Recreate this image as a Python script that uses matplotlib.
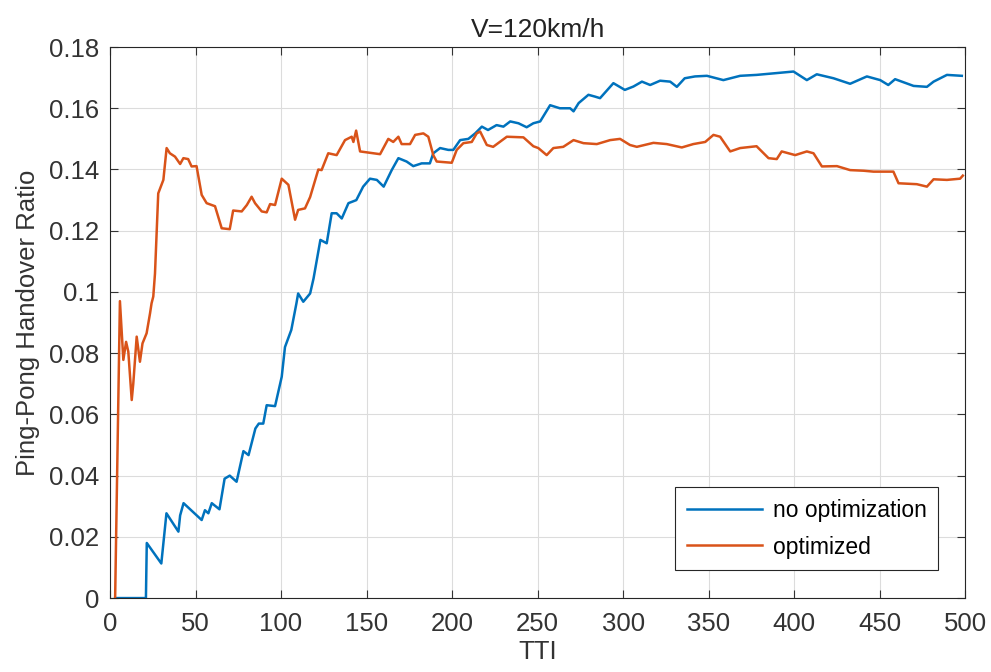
import numpy as np
import matplotlib
matplotlib.use('Agg')
import matplotlib.pyplot as plt

plt.rcParams['font.family'] = ['Liberation Sans', 'DejaVu Sans']

# no optimization (blue)
x_no = [3, 21, 21.5, 30, 33, 40, 41, 43, 53.6, 55.5, 57.5, 59.5, 64, 67, 70, 74, 78, 81, 85, 87,
        89.6, 91.6, 96.5, 100.4, 102.3, 106, 109, 110, 113, 117, 119, 123, 126.7, 129.6, 132.5,
        135.5, 139.4, 144, 148, 152, 156, 160, 164.7, 168.6, 173.4, 177.3, 182.2, 187, 189, 193,
        197.8, 200.7, 204.7, 209.5, 213.5, 217.4, 221, 226, 230, 234, 238.8, 243.6, 247.5, 251.5,
        257.3, 263, 269, 271, 274, 279.7, 283.6, 286.5, 294.3, 301, 306, 311, 315.8, 321.6, 327.5,
        331.4, 336, 342, 349, 358.6, 368.4, 378, 387.9, 399.6, 407.4, 413.2, 423, 432.7, 442.5,
        450.3, 455, 459, 469.8, 477.6, 481.5, 489.3, 498]
y_no = [0, 0, 0.018, 0.0113, 0.0277, 0.0217, 0.027, 0.031, 0.0255, 0.0287, 0.0277, 0.031, 0.029,
        0.039, 0.040, 0.038, 0.048, 0.0467, 0.0554, 0.057, 0.057, 0.063, 0.0627, 0.0723, 0.082,
        0.0876, 0.0963, 0.0995, 0.0968, 0.0995, 0.1044, 0.117, 0.1159, 0.1257, 0.1257, 0.124, 0.129,
        0.130, 0.1344, 0.137, 0.1366, 0.1344, 0.1398, 0.1437, 0.1426, 0.1411, 0.142, 0.142, 0.1453,
        0.147, 0.1464, 0.1464, 0.1496, 0.150, 0.1518, 0.154, 0.1529, 0.1545, 0.154, 0.1557, 0.1551,
        0.1538, 0.1551, 0.1557, 0.161, 0.160, 0.160, 0.159, 0.1617, 0.1644, 0.1638, 0.1633, 0.1682,
        0.166, 0.1671, 0.1687, 0.1676, 0.169, 0.1687, 0.167, 0.1698, 0.1704, 0.1706, 0.1692, 0.1706,
        0.1709, 0.1714, 0.172, 0.1692, 0.1711, 0.1698, 0.168, 0.1704, 0.1692, 0.1676, 0.1695,
        0.1673, 0.167, 0.1687, 0.1709, 0.1706]

# optimized (orange)
x_op = [3, 5.8, 7.8, 9.4, 10.7, 12.7, 13.6, 15.6, 17.5, 19, 21.4, 23.4, 24.3, 25.3, 26.3, 28.2,
        31.2, 33.1, 35, 38, 41, 42.9, 45.7, 47.7, 50.6, 53.6, 56.5, 61.4, 65.3, 70, 72, 77, 80,
        82.8, 84.8, 88.7, 91.6, 93.6, 96.5, 100.4, 104.3, 108.2, 110, 114, 117, 121.8, 123.7,
        127.6, 132.5, 137.4, 141.3, 142.3, 143.9, 146.2, 157.9, 162.7, 165.6, 168.6, 170.5, 175.4,
        178.4, 183.2, 186.1, 189, 191, 199.8, 202.7, 206.6, 211.5, 214.4, 216.4, 220.3, 224, 232,
        241.7, 247.5, 250.4, 255.3, 259.2, 265, 271, 276.8, 284.6, 292.4, 298.2, 304, 308, 317.7,
        325.5, 334.3, 341, 348, 352.8, 356.7, 362.6, 368.4, 378, 385, 389.8, 392.7, 400.6, 407.4,
        411.3, 416.2, 425, 432.7, 440.5, 446.4, 458, 461, 471.7, 477.6, 481.5, 489.3, 497, 498.6]
y_op = [0, 0.097, 0.0778, 0.0837, 0.0805, 0.0647, 0.070, 0.0854, 0.0772, 0.0832, 0.0865, 0.093,
        0.0963, 0.0985, 0.106, 0.1322, 0.1366, 0.147, 0.1453, 0.1442, 0.1418, 0.1437, 0.1434,
        0.141, 0.1411, 0.1317, 0.129, 0.128, 0.1208, 0.1205, 0.1266, 0.1263, 0.1284, 0.1311, 0.129,
        0.1263, 0.126, 0.1287, 0.1284, 0.137, 0.135, 0.1236, 0.1268, 0.1273, 0.131, 0.140, 0.1398,
        0.1453, 0.1447, 0.1496, 0.1507, 0.149, 0.1527, 0.1459, 0.145, 0.150, 0.149, 0.1507, 0.1483,
        0.1483, 0.1513, 0.1518, 0.1507, 0.1447, 0.1426, 0.1422, 0.1464, 0.1486, 0.149, 0.1518,
        0.1524, 0.148, 0.1474, 0.1507, 0.1505, 0.1476, 0.147, 0.1447, 0.147, 0.1474, 0.1496,
        0.1486, 0.1483, 0.1496, 0.150, 0.148, 0.1474, 0.1487, 0.1483, 0.1472, 0.1483, 0.149,
        0.1513, 0.1507, 0.1459, 0.147, 0.1476, 0.1437, 0.1434, 0.1459, 0.1447, 0.1459, 0.1453,
        0.141, 0.1411, 0.1398, 0.1396, 0.1393, 0.1393, 0.1355, 0.1352, 0.1344, 0.1368, 0.1366,
        0.137, 0.138]

fig = plt.figure(figsize=(9.91, 6.72), dpi=100)
ax = fig.add_axes([0.111, 0.110, 0.863, 0.820])

ax.plot(x_no, y_no, color='#0072BD', lw=1.8, label='no optimization')
ax.plot(x_op, y_op, color='#D95319', lw=1.8, label='optimized')

ax.set_xlim(0, 500)
ax.set_ylim(0, 0.18)
ax.set_xticks(np.arange(0, 501, 50))
ax.set_yticks(np.arange(0, 0.181, 0.02))
ax.set_yticklabels(['0', '0.02', '0.04', '0.06', '0.08', '0.1', '0.12', '0.14', '0.16', '0.18'])
ax.grid(True, color='#dcdcdc', lw=0.8)
ax.set_axisbelow(True)
ax.tick_params(direction='in', top=True, right=True, labelsize=18.5, colors='#333333',
               length=6, width=0.8)
ax.tick_params(axis='x', pad=10)
ax.tick_params(axis='y', pad=8)
for s in ax.spines.values():
    s.set_color('#262626')
    s.set_linewidth(0.8)

ax.set_title('V=120km/h', fontsize=19, color='#222222', pad=7)
ax.set_xlabel('TTI', fontsize=18.5, color='#333333', labelpad=3)
ax.set_ylabel('Ping-Pong Handover Ratio', fontsize=18.5, color='#333333', labelpad=6)

leg = ax.legend(loc='lower right', bbox_to_anchor=(0.968, 0.051), borderaxespad=0,
                fontsize=16.5, fancybox=False, framealpha=1, edgecolor='#262626',
                handlelength=3.3, handletextpad=0.45, borderpad=0.5, labelspacing=0.6)
leg.get_frame().set_linewidth(0.8)

fig.savefig('out.png', dpi=100)
